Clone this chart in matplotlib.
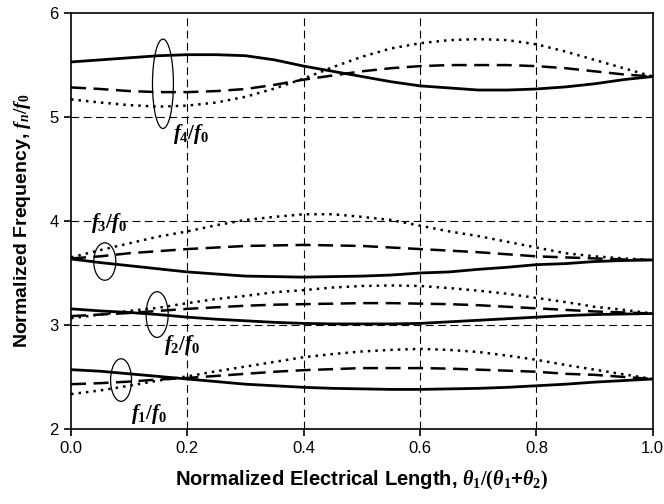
import matplotlib
matplotlib.use("Agg")
import matplotlib.pyplot as plt
from matplotlib.patches import Ellipse

plt.rcParams['font.family'] = ['Liberation Sans', 'DejaVu Sans']
plt.rcParams['mathtext.fontset'] = 'custom'
plt.rcParams['mathtext.rm'] = 'Liberation Serif:bold'
plt.rcParams['mathtext.it'] = 'Liberation Serif:italic:bold'
plt.rcParams['mathtext.bf'] = 'Liberation Serif:bold'

# normalized electrical length theta1/(theta1+theta2), step 0.05
x = [0.00, 0.05, 0.10, 0.15, 0.20, 0.25, 0.30, 0.35, 0.40, 0.45, 0.50,
     0.55, 0.60, 0.65, 0.70, 0.75, 0.80, 0.85, 0.90, 0.95, 1.00]

# f4/f0 for the three cases (solid, dashed, dotted)
f4_solid = [5.53, 5.55, 5.57, 5.59, 5.60, 5.60, 5.59, 5.55, 5.49, 5.44, 5.39,
            5.34, 5.30, 5.28, 5.26, 5.26, 5.27, 5.29, 5.32, 5.36, 5.39]
f4_dash = [5.285, 5.27, 5.25, 5.24, 5.24, 5.25, 5.27, 5.31, 5.36, 5.40, 5.44,
           5.47, 5.49, 5.50, 5.50, 5.50, 5.49, 5.47, 5.44, 5.41, 5.39]
f4_dot = [5.17, 5.14, 5.115, 5.10, 5.11, 5.14, 5.195, 5.275, 5.37, 5.48, 5.58,
          5.66, 5.71, 5.74, 5.75, 5.74, 5.70, 5.63, 5.55, 5.47, 5.39]

# f3/f0
f3_solid = [3.635, 3.60, 3.57, 3.54, 3.51, 3.49, 3.47, 3.465, 3.46, 3.465, 3.47,
            3.48, 3.50, 3.51, 3.535, 3.555, 3.58, 3.59, 3.61, 3.62, 3.625]
f3_dash = [3.64, 3.66, 3.69, 3.71, 3.73, 3.745, 3.76, 3.765, 3.77, 3.765, 3.76,
           3.745, 3.73, 3.715, 3.70, 3.68, 3.66, 3.65, 3.64, 3.63, 3.625]
f3_dot = [3.65, 3.72, 3.785, 3.85, 3.90, 3.96, 4.01, 4.04, 4.065, 4.065, 4.04,
          4.01, 3.955, 3.90, 3.855, 3.80, 3.745, 3.69, 3.66, 3.64, 3.625]

# f2/f0
f2_solid = [3.155, 3.135, 3.12, 3.10, 3.075, 3.055, 3.04, 3.025, 3.015, 3.01, 3.01,
            3.01, 3.015, 3.03, 3.045, 3.06, 3.075, 3.09, 3.10, 3.105, 3.11]
f2_dash = [3.085, 3.10, 3.115, 3.135, 3.155, 3.17, 3.185, 3.195, 3.20, 3.205, 3.21,
           3.21, 3.205, 3.20, 3.19, 3.175, 3.16, 3.145, 3.13, 3.12, 3.11]
f2_dot = [3.065, 3.10, 3.135, 3.165, 3.21, 3.25, 3.28, 3.315, 3.335, 3.36, 3.375,
          3.38, 3.375, 3.355, 3.33, 3.30, 3.26, 3.22, 3.175, 3.145, 3.11]

# f1/f0
f1_solid = [2.57, 2.555, 2.53, 2.505, 2.48, 2.455, 2.43, 2.415, 2.40, 2.39, 2.385,
            2.38, 2.38, 2.385, 2.39, 2.40, 2.415, 2.43, 2.45, 2.465, 2.48]
f1_dash = [2.43, 2.44, 2.455, 2.475, 2.49, 2.51, 2.53, 2.55, 2.565, 2.575, 2.585,
           2.585, 2.585, 2.58, 2.57, 2.56, 2.55, 2.53, 2.52, 2.50, 2.48]
f1_dot = [2.335, 2.37, 2.415, 2.465, 2.505, 2.555, 2.60, 2.645, 2.69, 2.72, 2.745,
          2.76, 2.77, 2.76, 2.74, 2.705, 2.665, 2.615, 2.57, 2.525, 2.48]

# mode labels: text, label position, ellipse centre, ellipse width/height
mode_labels = [r'$f_1/f_0$', r'$f_2/f_0$', r'$f_3/f_0$', r'$f_4/f_0$']
label_pos = [(0.103, 2.14), (0.160, 2.81), (0.034, 3.98), (0.176, 4.84)]
ell_centre = [(0.086, 2.47), (0.148, 3.10), (0.058, 3.61), (0.158, 5.32)]
ell_size = [(0.036, 0.41), (0.038, 0.44), (0.038, 0.36), (0.036, 0.86)]

fig = plt.figure(figsize=(6.64, 5.04), dpi=100)
ax = fig.add_axes([0.107, 0.149, 0.876, 0.825])

groups = [(f1_solid, f1_dash, f1_dot), (f2_solid, f2_dash, f2_dot),
          (f3_solid, f3_dash, f3_dot), (f4_solid, f4_dash, f4_dot)]
for solid, dash, dot in groups:
    ax.plot(x, solid, color='black', lw=2.0, ls='-')
    ax.plot(x, dash, color='black', lw=1.8, ls=(0, (6, 3)))
    ax.plot(x, dot, color='black', lw=1.8, ls=(0, (1, 2)))

for txt, pos, c, s in zip(mode_labels, label_pos, ell_centre, ell_size):
    ax.add_patch(Ellipse(c, s[0], s[1], fill=False, ec='black', lw=0.9))
    ax.text(pos[0], pos[1], txt, fontsize=15, va='center', ha='left')

ax.set_xlim(0, 1.0)
ax.set_ylim(2, 6)
ax.set_xticks([0.0, 0.2, 0.4, 0.6, 0.8, 1.0])
ax.set_xticklabels(['0.0', '0.2', '0.4', '0.6', '0.8', '1.0'])
ax.set_yticks([2, 3, 4, 5, 6])

for gx in [0.2, 0.4, 0.6, 0.8]:
    ax.axvline(gx, color='black', lw=0.8, ls=(0, (7, 4)), zorder=0)
for gy in [3, 4, 5]:
    ax.axhline(gy, color='black', lw=0.8, ls=(0, (7, 4)), zorder=0)

for sp in ax.spines.values():
    sp.set_linewidth(1.2)
ax.tick_params(direction='out', length=5, width=1.2, labelsize=12, pad=4)

ax.set_xlabel(r'Normalized Electrical Length, $\theta_1/(\theta_1$+$\theta_2)$',
              fontsize=14.5, fontweight='bold', labelpad=9)
ax.set_ylabel(r'Normalized Frequency, $f_n/f_0$',
              fontsize=14, fontweight='bold', labelpad=12)

fig.savefig('out.png', dpi=100)
